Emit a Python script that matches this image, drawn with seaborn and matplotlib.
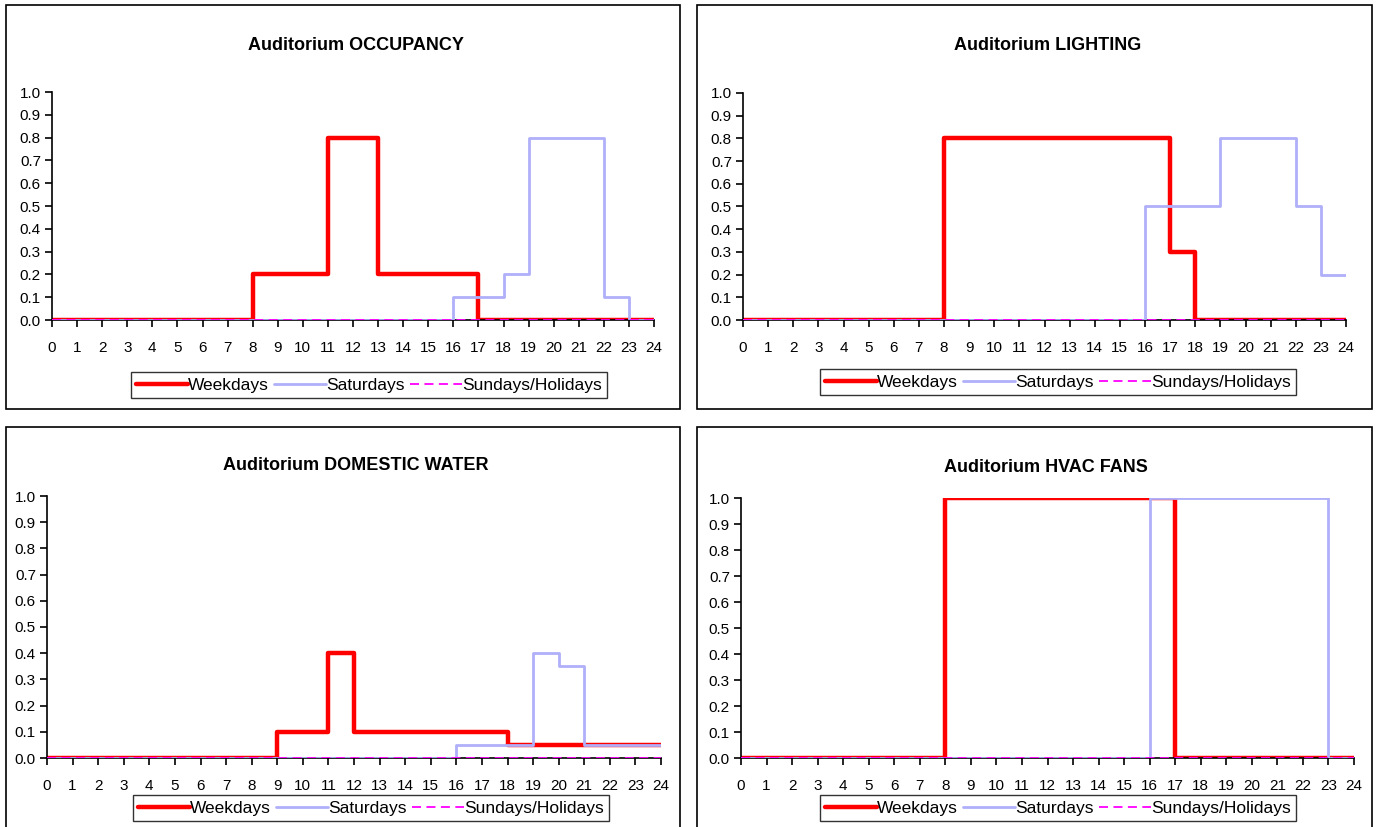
import numpy as np
import pandas as pd
import matplotlib
matplotlib.use("Agg")
import matplotlib.pyplot as plt
from matplotlib.patches import Rectangle
import seaborn as sns

sns.set_theme(style="white")
plt.rcParams["font.family"] = ["Liberation Sans", "DejaVu Sans"]
plt.rcParams["text.color"] = "black"
plt.rcParams["xtick.color"] = "black"
plt.rcParams["ytick.color"] = "black"
plt.rcParams["axes.labelcolor"] = "black"

hours = list(range(24))

# Hourly schedule fractions (value holds from hour h to h+1)
occ_weekdays = [0, 0, 0, 0, 0, 0, 0, 0, 0.2, 0.2, 0.2, 0.8, 0.8, 0.2, 0.2, 0.2, 0.2, 0, 0, 0, 0, 0, 0, 0]
occ_saturdays = [0, 0, 0, 0, 0, 0, 0, 0, 0, 0, 0, 0, 0, 0, 0, 0, 0.1, 0.1, 0.2, 0.8, 0.8, 0.8, 0.1, 0]
occ_sundays = [0] * 24

light_weekdays = [0, 0, 0, 0, 0, 0, 0, 0, 0.8, 0.8, 0.8, 0.8, 0.8, 0.8, 0.8, 0.8, 0.8, 0.3, 0, 0, 0, 0, 0, 0]
light_saturdays = [0, 0, 0, 0, 0, 0, 0, 0, 0, 0, 0, 0, 0, 0, 0, 0, 0.5, 0.5, 0.5, 0.8, 0.8, 0.8, 0.5, 0.2]
light_sundays = [0] * 24

water_weekdays = [0, 0, 0, 0, 0, 0, 0, 0, 0, 0.1, 0.1, 0.4, 0.1, 0.1, 0.1, 0.1, 0.1, 0.1, 0.05, 0.05, 0.05, 0.05, 0.05, 0.05]
water_saturdays = [0, 0, 0, 0, 0, 0, 0, 0, 0, 0, 0, 0, 0, 0, 0, 0, 0.05, 0.05, 0.05, 0.4, 0.35, 0.05, 0.05, 0.05]
water_sundays = [0] * 24

fans_weekdays = [0, 0, 0, 0, 0, 0, 0, 0, 1, 1, 1, 1, 1, 1, 1, 1, 1, 0, 0, 0, 0, 0, 0, 0]
fans_saturdays = [0, 0, 0, 0, 0, 0, 0, 0, 0, 0, 0, 0, 0, 0, 0, 0, 1, 1, 1, 1, 1, 1, 1, 0]
fans_sundays = [0] * 24

day_types = ["Weekdays", "Saturdays", "Sundays/Holidays"]
yticks = [round(v * 0.1, 1) for v in range(11)]
xticks = list(range(25))

W, H = 1377, 827
fig = plt.figure(figsize=(W / 100, H / 100), dpi=100)

def frame(x0, y0, x1, y1):
    fig.patches.append(Rectangle((x0 / W, 1 - y1 / H), (x1 - x0) / W, (y1 - y0) / H,
                                 transform=fig.transFigure, fill=False,
                                 edgecolor="black", linewidth=1.2))

def panel(box, title, title_xy, legend_xy, series):
    x0, ytop, x1, ybot = box
    ax = fig.add_axes([x0 / W, 1 - ybot / H, (x1 - x0) / W, (ybot - ytop) / H])
    rows = []
    for name, vals in zip(day_types, series):
        ext = list(vals) + [vals[-1]]
        for h, v in zip(hours + [24], ext):
            rows.append({"Hour": h, "Fraction": v, "Day": name})
    df = pd.DataFrame(rows)
    styles = {
        "Weekdays": dict(color="#FF0000", lw=3.2, ls="-", z=2),
        "Saturdays": dict(color="#AFAFFA", lw=2.0, ls="-", z=3),
        "Sundays/Holidays": dict(color="#FF00FF", lw=1.3, ls=(0, (5, 3)), z=4),
    }
    for name in day_types:
        st = styles[name]
        sns.lineplot(data=df[df["Day"] == name], x="Hour", y="Fraction", ax=ax,
                     drawstyle="steps-post", color=st["color"], linewidth=st["lw"],
                     linestyle=st["ls"], zorder=st["z"], label=name, legend=False)
    ax.set_xlim(0, 24)
    ax.set_ylim(0, 1.0)
    ax.set_xticks(xticks)
    ax.set_xticklabels([str(t) for t in xticks])
    ax.set_yticks(yticks)
    ax.set_yticklabels([f"{t:.1f}" for t in yticks])
    ax.set_xlabel("")
    ax.set_ylabel("")
    for s in ["top", "right"]:
        ax.spines[s].set_visible(False)
    for s in ["left", "bottom"]:
        ax.spines[s].set_color("black")
        ax.spines[s].set_linewidth(1.2)
    ax.tick_params(axis="x", direction="out", length=5, width=1.2, color="black",
                   labelsize=11, pad=10, bottom=True, labelcolor="black")
    ax.tick_params(axis="y", direction="out", length=5, width=1.2, color="black",
                   labelsize=11, pad=3, left=True, labelcolor="black")
    ax.patch.set_alpha(0)
    fig.text(title_xy[0] / W, 1 - title_xy[1] / H, title, ha="center", va="center",
             fontsize=13, fontweight="bold", color="black")
    handles, labels = ax.get_legend_handles_labels()
    leg = fig.legend(handles, labels, loc="center",
                     bbox_to_anchor=(legend_xy[0] / W, 1 - legend_xy[1] / H),
                     ncol=3, frameon=True, fontsize=12.5, handlelength=3.0,
                     handletextpad=0.0, columnspacing=0.3, borderpad=0.3,
                     fancybox=False, edgecolor="black")
    leg.get_frame().set_linewidth(1.0)
    for t in leg.get_texts():
        t.set_color("black")
    return ax

frame(6, 5, 680, 409)
frame(697, 5, 1372, 409)
frame(6, 427, 680, 840)
frame(697, 427, 1372, 840)

panel((52, 92, 654, 320), "Auditorium OCCUPANCY", (356, 46), (369, 385),
      [occ_weekdays, occ_saturdays, occ_sundays])
panel((743, 93, 1346, 320), "Auditorium LIGHTING", (1048, 46), (1058, 382),
      [light_weekdays, light_saturdays, light_sundays])
panel((47, 496, 661, 758), "Auditorium DOMESTIC WATER", (356, 466), (371, 808),
      [water_weekdays, water_saturdays, water_sundays])
panel((741, 498, 1354, 758), "Auditorium HVAC FANS", (1046, 468), (1058, 808),
      [fans_weekdays, fans_saturdays, fans_sundays])

fig.savefig("out.png", dpi=100, facecolor="white")
